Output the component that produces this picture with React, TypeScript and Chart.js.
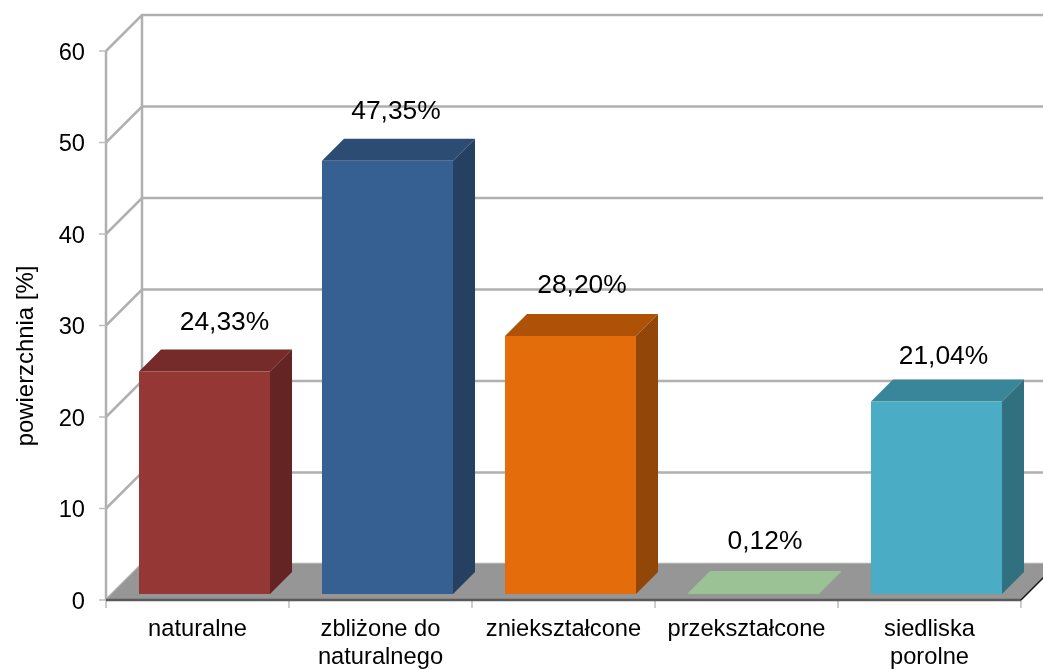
import React, { useEffect, useRef } from "react";
import { Chart, registerables } from "chart.js";

Chart.register(...registerables);

const categories = [
  "naturalne",
  ["zbliżone do", "naturalnego"],
  "zniekształcone",
  "przekształcone",
  ["siedliska", "porolne"],
];
const values = [24.33, 47.35, 28.2, 0.12, 21.04];
const valueLabels = ["24,33%", "47,35%", "28,20%", "0,12%", "21,04%"];
const yAxisTitle = "powierzchnia [%]";
const frontColors = ["#953735", "#376092", "#E46C0A", "#9BC295", "#4BACC6"];
const topColors = ["#752B2A", "#2C4C74", "#AE5207", "#9BC295", "#39859A"];
const sideColors = ["#632423", "#254061", "#924607", "#9BC295", "#31707F"];
const labelNudgeX = [27, 15.5, 18.5, 18.5, 14];
const labelNudgeY = [-55, -55.5, -56, -57.5, -51];

const FONT = '"Liberation Sans", Arial, sans-serif';
const WALL = 36; // depth of the back wall
const BAR_DX = 7; // bars stand part-way into the floor
const BAR_DY = -6;
const BAR_DEPTH = 22;
const GRID = "#B0B0B0";

const scene3d = {
  id: "scene3d",
  beforeDatasetsDraw(chart: any) {
    const { ctx, width } = chart;
    const x = chart.scales.x;
    const y = chart.scales.y;
    const left = x.left;
    const right = x.right;
    const y0 = y.getPixelForValue(0);
    ctx.save();

    // back wall and side wall grid
    ctx.strokeStyle = GRID;
    ctx.lineWidth = 2.5;
    y.ticks.forEach((t: any) => {
      const py = y.getPixelForValue(t.value);
      ctx.beginPath();
      ctx.moveTo(left, py);
      ctx.lineTo(left + WALL, py - WALL);
      ctx.lineTo(width + 5, py - WALL);
      ctx.stroke();
    });
    const yTop = y.getPixelForValue(y.max);
    ctx.beginPath();
    ctx.moveTo(left, yTop);
    ctx.lineTo(left, y0);
    ctx.moveTo(left + WALL, yTop - WALL);
    ctx.lineTo(left + WALL, y0 - WALL);
    ctx.stroke();

    // floor
    ctx.fillStyle = "#969696";
    ctx.beginPath();
    ctx.moveTo(left, y0);
    ctx.lineTo(left + WALL, y0 - WALL);
    ctx.lineTo(right + WALL, y0 - WALL);
    ctx.lineTo(right, y0);
    ctx.closePath();
    ctx.fill();

    // tick marks
    ctx.strokeStyle = "#BDBDBD";
    ctx.lineWidth = 1.5;
    y.ticks.forEach((t: any) => {
      const py = y.getPixelForValue(t.value);
      ctx.beginPath();
      ctx.moveTo(left - 7, py);
      ctx.lineTo(left, py);
      ctx.stroke();
    });
    const step = (right - left) / categories.length;
    for (let i = 0; i <= categories.length; i++) {
      ctx.beginPath();
      ctx.moveTo(left + i * step, y0);
      ctx.lineTo(left + i * step, y0 + 8);
      ctx.stroke();
    }

    // floor edges
    ctx.strokeStyle = "#5A5A5A";
    ctx.lineWidth = 2.5;
    ctx.beginPath();
    ctx.moveTo(left, y0);
    ctx.lineTo(right, y0);
    ctx.stroke();
    ctx.strokeStyle = "#111111";
    ctx.lineWidth = 1.5;
    ctx.beginPath();
    ctx.moveTo(right, y0);
    ctx.lineTo(right + WALL, y0 - WALL);
    ctx.stroke();
    ctx.restore();
  },
  beforeDatasetDraw(chart: any, args: any) {
    const { ctx } = chart;
    const meta = chart.getDatasetMeta(args.index);
    ctx.save();
    ctx.translate(BAR_DX, BAR_DY);
    meta.data.forEach((bar: any, i: number) => {
      const p = bar.getProps(["x", "y", "base", "width"], true);
      const l = p.x - p.width / 2;
      const r = p.x + p.width / 2;
      ctx.fillStyle = topColors[i];
      ctx.beginPath();
      ctx.moveTo(l, p.y);
      ctx.lineTo(l + BAR_DEPTH, p.y - BAR_DEPTH);
      ctx.lineTo(r + BAR_DEPTH, p.y - BAR_DEPTH);
      ctx.lineTo(r, p.y);
      ctx.closePath();
      ctx.fill();
      ctx.fillStyle = sideColors[i];
      ctx.beginPath();
      ctx.moveTo(r, p.y);
      ctx.lineTo(r + BAR_DEPTH, p.y - BAR_DEPTH);
      ctx.lineTo(r + BAR_DEPTH, p.base - BAR_DEPTH);
      ctx.lineTo(r, p.base);
      ctx.closePath();
      ctx.fill();
    });
  },
  afterDatasetDraw(chart: any) {
    chart.ctx.restore();
  },
  afterDatasetsDraw(chart: any) {
    const { ctx } = chart;
    const meta = chart.getDatasetMeta(0);
    ctx.save();
    ctx.fillStyle = "#000000";
    ctx.font = `26.4px ${FONT}`;
    ctx.textAlign = "center";
    ctx.textBaseline = "middle";
    meta.data.forEach((bar: any, i: number) => {
      ctx.fillText(valueLabels[i], bar.x + labelNudgeX[i], bar.y + labelNudgeY[i]);
    });
    // axis title, set lower than the axis centre as in the source chart
    ctx.translate(26, 356);
    ctx.rotate(-Math.PI / 2);
    ctx.font = `23.9px ${FONT}`;
    ctx.fillText(yAxisTitle, 0, 0);
    ctx.restore();
  },
};

export default function App() {
  const ref = useRef<HTMLCanvasElement>(null);
  useEffect(() => {
    const chart = new Chart(ref.current as HTMLCanvasElement, {
      type: "bar",
      data: {
        labels: categories as any,
        datasets: [
          {
            data: values,
            backgroundColor: frontColors,
            borderWidth: 0,
            barPercentage: 0.716,
            categoryPercentage: 1,
            clip: false as any,
          },
        ],
      },
      options: {
        responsive: false,
        animation: false,
        events: [],
        layout: { padding: { top: 51, right: 22, left: 0, bottom: 0 } },
        plugins: { legend: { display: false }, tooltip: { enabled: false } },
        scales: {
          x: {
            grid: { display: false, drawTicks: false },
            border: { display: false },
            ticks: {
              color: "#000000",
              font: { family: FONT, size: 23.7 },
              padding: 15,
              maxRotation: 0,
              autoSkip: false,
            },
            afterFit(s: any) {
              s.height = 69;
            },
          },
          y: {
            min: 0,
            max: 60,
            grid: { display: false, drawTicks: false },
            border: { display: false },
            ticks: {
              stepSize: 10,
              color: "#000000",
              font: { family: FONT, size: 23.7 },
              padding: 21,
              labelOffset: 2,
            },
            afterFit(s: any) {
              s.width = 106;
            },
          },
        },
      },
      plugins: [scene3d],
    });
    return () => chart.destroy();
  }, []);
  return (
    <div style={{ position: "fixed", left: 0, top: 0, width: 1043, height: 669 }}>
      <canvas ref={ref} width={1043} height={669} style={{ display: "block" }} />
    </div>
  );
}
